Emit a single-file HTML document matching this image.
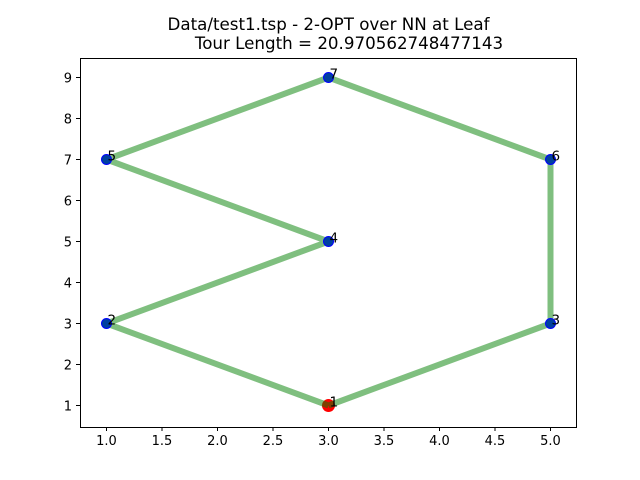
<!DOCTYPE html>
<html><head><meta charset="utf-8"><style>body{margin:0;background:#fff}svg{display:block;font-family:"DejaVu Sans","Liberation Sans",sans-serif}</style></head>
<body>
<svg id="c" width="640" height="480">
<rect x="0" y="0" width="640" height="480" fill="#fff"/>
<text x="328.5" y="30" font-size="16.7" text-anchor="middle">Data/test1.tsp - 2-OPT over NN at Leaf</text>
<text x="349" y="49" font-size="16.7" text-anchor="middle">Tour Length = 20.970562748477143</text>
</svg>
<script>
const xs=[3,1,5,3,1,5,3];
const ys=[1,3,3,5,7,7,9];
const labels=["1","2","3","4","5","6","7"];
const tour=[0,1,3,4,6,5,2,0];
const xTicks=[1.0,1.5,2.0,2.5,3.0,3.5,4.0,4.5,5.0];
const xTickLabels=["1.0","1.5","2.0","2.5","3.0","3.5","4.0","4.5","5.0"];
const yTicks=[1,2,3,4,5,6,7,8,9];
const yTickLabels=["1","2","3","4","5","6","7","8","9"];
const L=80,R=576,T=58,B=427;
const X=v=>106.5+(v-1)*111;
const Y=v=>405.5-(v-1)*41;
const svg=document.getElementById('c');
const NS='http://www.w3.org/2000/svg';
function mk(t,a){const e=document.createElementNS(NS,t);for(const k in a)e.setAttribute(k,a[k]);svg.appendChild(e);return e;}
let s=mk('circle',{cx:X(xs[tour[0]]),cy:Y(ys[tour[0]]),r:6.5,fill:'#ff0000'});


let pts=tour.map(i=>X(xs[i])+','+Y(ys[i])).join(' ');
let pl=mk('polyline',{points:pts,fill:'none',stroke:'#008000','stroke-opacity':0.5,'stroke-width':6,'stroke-linejoin':'round'});


for(let i=0;i<xs.length;i++){
 if(i!==tour[0]){
  let c=mk('circle',{cx:X(xs[i]),cy:Y(ys[i]),r:5,fill:'#0040a0',stroke:'#0000ff','stroke-width':1});
  
  
 }
 let t=mk('text',{x:X(xs[i])+1,y:Y(ys[i])+1,'font-size':13.5});
 t.textContent=labels[i];
 
 
}
let f=mk('rect',{x:L+0.5,y:T+0.5,width:R-L,height:B-T,fill:'none',stroke:'#000','stroke-width':1});


xTicks.forEach((v,i)=>{
 let l=mk('line',{x1:X(v),x2:X(v),y1:B,y2:B+4,stroke:'#000'});
 
 
 let t=mk('text',{x:X(v),y:B+18,'font-size':13,'text-anchor':'middle'});
 t.textContent=xTickLabels[i];
 
 
});
yTicks.forEach((v,i)=>{
 let l=mk('line',{x1:L-4,x2:L,y1:Y(v),y2:Y(v),stroke:'#000'});
 
 
 let t=mk('text',{x:L-8,y:Y(v)+5,'font-size':13,'text-anchor':'end'});
 t.textContent=yTickLabels[i];
 
 
});
</script>
</body></html>
